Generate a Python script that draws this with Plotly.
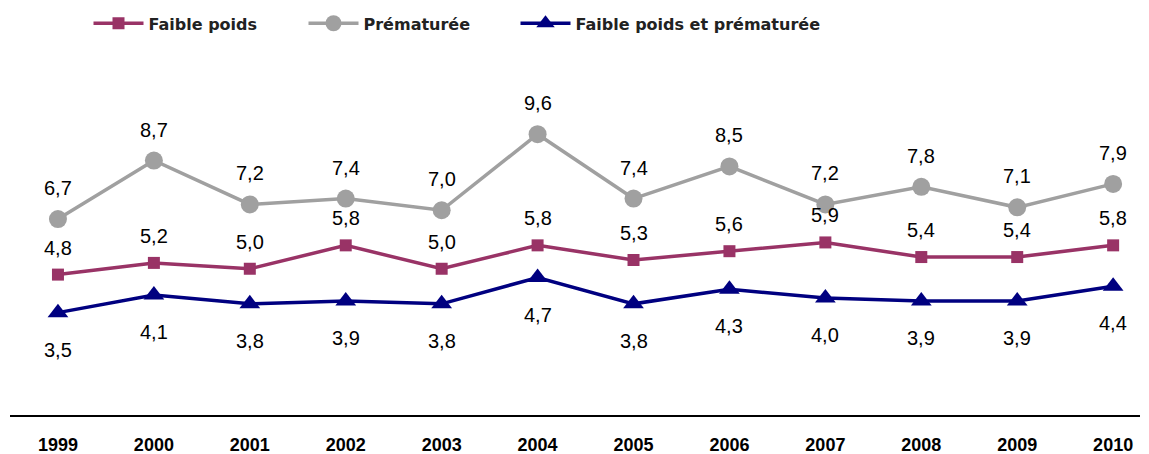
import plotly.graph_objects as go

years = ["1999", "2000", "2001", "2002", "2003", "2004", "2005", "2006", "2007", "2008", "2009", "2010"]
faible_poids = [4.8, 5.2, 5.0, 5.8, 5.0, 5.8, 5.3, 5.6, 5.9, 5.4, 5.4, 5.8]
prematuree = [6.7, 8.7, 7.2, 7.4, 7.0, 9.6, 7.4, 8.5, 7.2, 7.8, 7.1, 7.9]
faible_prem = [3.5, 4.1, 3.8, 3.9, 3.8, 4.7, 3.8, 4.3, 4.0, 3.9, 3.9, 4.4]

FONT = "Liberation Sans, Arial, sans-serif"
LEGFONT = "DejaVu Sans, Liberation Sans, sans-serif"
xs = list(range(len(years)))

fig = go.Figure()
series = [
    ("<b>Faible poids</b>", faible_poids, "#993366", "square", 12, 27, "legend", 95),
    ("<b>Prématurée</b>", prematuree, "#A0A0A0", "circle", 18, 31, "legend2", 310),
    ("<b>Faible poids et prématurée</b>", faible_prem, "#000080", "triangle-up", 18, -37, "legend3", 522),
]
legend_cfg = {}
for name, vals, col, sym, size, shift, lg, lx in series:
    fig.add_trace(go.Scatter(
        x=xs, y=vals, name=name, mode="lines+markers", legend=lg,
        line=dict(color=col, width=3.5),
        marker=dict(symbol=sym, size=size, color=col),
    ))
    for xi, v in zip(xs, vals):
        fig.add_annotation(x=xi, y=v, text=f"{v:.1f}".replace(".", ","),
                           showarrow=False, yshift=shift,
                           font=dict(family=FONT, size=20, color="#000000"))
    legend_cfg[lg] = dict(orientation="h", x=(lx - 6.5) / 1149, xanchor="left", xref="container",
                          y=0.986, yanchor="top", yref="container", bgcolor="rgba(0,0,0,0)",
                          font=dict(family=LEGFONT, size=16, color="#222222"), itemwidth=50)

fig.update_layout(
    width=1149, height=454,
    margin=dict(l=10, r=9, t=64, b=39, autoexpand=False),
    paper_bgcolor="white", plot_bgcolor="white",
    showlegend=True,
    **legend_cfg,
    xaxis=dict(range=[-0.5, 11.28], tickmode="array", tickvals=xs, ticktext=["<b>%s</b>" % y for y in years],
               showgrid=False, zeroline=False, showline=True, linecolor="#000000",
               linewidth=1.5, ticks="", tickfont=dict(family=FONT, size=18, color="#000000"),
               ticklabelstandoff=13, automargin=False),
    yaxis=dict(range=[0, 12], visible=False, showgrid=False, zeroline=False, automargin=False),
)

fig.write_html("out.html", config={"displayModeBar": False},
               post_script="document.body.style.margin='0px';document.body.style.overflow='hidden';")
